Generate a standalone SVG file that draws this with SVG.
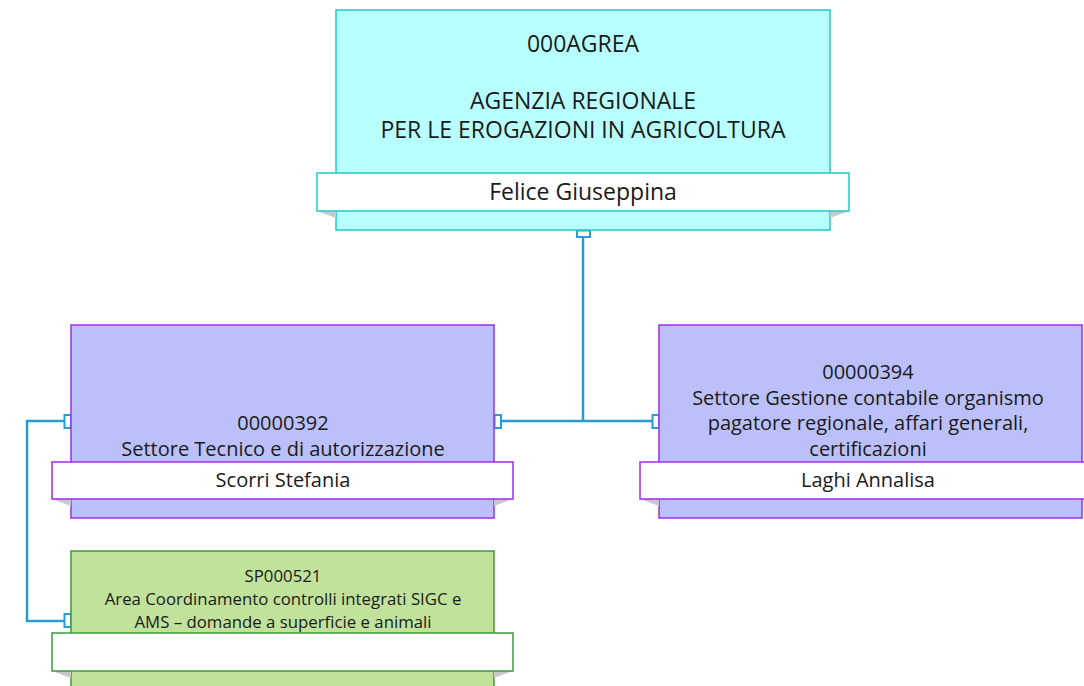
<svg xmlns="http://www.w3.org/2000/svg" width="1084" height="686" viewBox="0 0 1084 686">
<style>
text{font-family:"Open Sans","Noto Sans","Liberation Sans",sans-serif;fill:#1a1a1a;text-anchor:middle}
.t20{font-size:23px}
.t18{font-size:20px}
.t16{font-size:16.8px}
.conn{fill:none;stroke:#2A9BD6;stroke-width:2.5}
.port{fill:#fff;stroke:#2A9BD6;stroke-width:2}
.fold{fill:#c8c8c8}
.cyan{fill:#B8FFFF;stroke:#22C8C8;stroke-width:1.5}
.cyanb{fill:#fff;stroke:#22C8C8;stroke-width:1.5}
.purp{fill:#BCC0FA;stroke:#A12BF0;stroke-width:1.5}
.purpb{fill:#fff;stroke:#A12BF0;stroke-width:1.5}
.green{fill:#C0E29A;stroke:#3E9A3E;stroke-width:1.5}
.greenb{fill:#fff;stroke:#3E9A3E;stroke-width:1.5}
</style>
<g id="connectors">
<path class="conn" d="M583 237 V421 M501 421 H652"/>
<path class="conn" d="M64 421 H27 V621 H64"/>
<rect class="port" x="577" y="230.5" width="13" height="6.5"/>
<rect class="port" x="494.5" y="415" width="6.5" height="13"/>
<rect class="port" x="652.5" y="415" width="6.5" height="13"/>
<rect class="port" x="64.5" y="415" width="6.5" height="13"/>
<rect class="port" x="64.5" y="614" width="6.5" height="13"/>
</g>
<g id="node-000AGREA">
<rect class="cyan" x="336" y="10" width="494" height="220"/>
<path class="fold" d="M317 211 L336 211 L336 218 Z M849 211 L830 211 L830 218 Z"/>
<rect class="cyanb" x="317" y="173" width="532" height="38"/>
<text class="t20" x="583" y="52">000AGREA</text>
<text class="t20" x="583" y="109">AGENZIA REGIONALE</text>
<text class="t20" x="583" y="138">PER LE EROGAZIONI IN AGRICOLTURA</text>
<text class="t20" x="583" y="200">Felice Giuseppina</text>
</g>
<g id="node-00000392">
<rect class="purp" x="71" y="325" width="423" height="193"/>
<path class="fold" d="M52 499 L71 499 L71 506 Z M513 499 L494 499 L494 506 Z"/>
<rect class="purpb" x="52" y="462" width="461" height="37"/>
<text class="t18" x="283" y="430">00000392</text>
<text class="t18" x="283" y="456">Settore Tecnico e di autorizzazione</text>
<text class="t18" x="283" y="487">Scorri Stefania</text>
</g>
<g id="node-00000394">
<rect class="purp" x="659" y="325" width="423" height="193"/>
<path class="fold" d="M640 499 L659 499 L659 506 Z"/>
<rect class="purpb" x="640" y="462" width="460" height="37"/>
<text class="t18" x="868" y="379">00000394</text>
<text class="t18" x="868" y="405">Settore Gestione contabile organismo</text>
<text class="t18" x="868" y="430">pagatore regionale, affari generali,</text>
<text class="t18" x="868" y="456">certificazioni</text>
<text class="t18" x="868" y="487">Laghi Annalisa</text>
</g>
<g id="node-SP000521">
<rect class="green" x="71" y="551" width="423" height="150"/>
<path class="fold" d="M52 671 L71 671 L71 678 Z M513 671 L494 671 L494 678 Z"/>
<rect class="greenb" x="52" y="633" width="461" height="38"/>
<text class="t16" x="283" y="582">SP000521</text>
<text class="t16" x="283" y="605">Area Coordinamento controlli integrati SIGC e</text>
<text class="t16" x="283" y="628">AMS – domande a superficie e animali</text>
</g>
</svg>
